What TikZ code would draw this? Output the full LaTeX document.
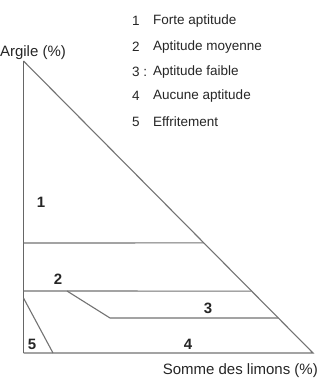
\documentclass[tikz,border=0pt]{standalone}
\usepackage{fontspec}
\setmainfont{Liberation Sans}
\usetikzlibrary{calc}
\tikzset{
  zone/.style={draw=black!55, line width=1.1pt},
  axisline/.style={draw=black!60, line width=1.5pt},
  lbl/.style={inner sep=0pt, font=\fontsize{15}{15}\selectfont, text=black!85},
  zonenum/.style={inner sep=0pt, font=\fontsize{15}{15}\selectfont\bfseries, text=black!85},
  legnum/.style={inner sep=0pt, anchor=west, font=\fontsize{13.5}{13.5}\selectfont, text=black!85},
  legtxt/.style={inner sep=0pt, anchor=west, font=\fontsize{13.5}{13.5}\selectfont, text=black!85},
}
\begin{document}
\begin{tikzpicture}[x=1pt,y=-1pt]
\useasboundingbox (0,0) rectangle (321,379);
\fill[white] (0,0) rectangle (321,379);
% triangle corners
\coordinate (A) at (23.5,61);
\coordinate (B) at (23.5,353);
\coordinate (C) at (313,353);
% boundary points
\coordinate (h1) at ($(A)!0.623!(C)$);
\coordinate (h2) at ($(A)!0.788!(C)$);
\coordinate (h3) at ($(A)!0.880!(C)$);
\coordinate (l1) at (23.5,243);
\coordinate (l2) at (23.5,291);
\coordinate (k1) at (67,291);
\coordinate (k2) at (110,318);
\coordinate (f1) at (23.5,298);
\coordinate (f2) at (53,353);
% lines
\draw[zone] (A) -- (C) -- (B);
\draw[axisline] (A) -- (B);
\draw[zone] (l1) -- (h1);
\draw[zone] (l2) -- (h2);
\draw[zone] (k1) -- (k2) -- (h3);
\draw[zone] (f1) -- (f2);
% axis labels
\node[lbl] (ya) at (33,53) {Argile (\%)};
\node[lbl, anchor=east] (xa) at (318,371) {Somme des limons (\%)};
% zone numbers
\node[zonenum] (z1) at (41,202) {1};
\node[zonenum] (z2) at (58,279) {2};
\node[zonenum] (z3) at (208,308) {3};
\node[zonenum] (z4) at (188,344) {4};
\node[zonenum] (z5) at (32,344) {5};
% legend
\node[legnum] (n1) at (132,21) {1};
\node[legtxt] (t1) at (153,21) {Forte aptitude};
\node[legnum] (n2) at (132,47) {2};
\node[legtxt] (t2) at (153,47) {Aptitude moyenne};
\node[legnum] (n3) at (132,72) {3 :};
\node[legtxt] (t3) at (153,72) {Aptitude faible};
\node[legnum] (n4) at (132,96) {4};
\node[legtxt] (t4) at (153,96) {Aucune aptitude};
\node[legnum] (n5) at (132,122) {5};
\node[legtxt] (t5) at (153,122) {Effritement};
\end{tikzpicture}
\end{document}
